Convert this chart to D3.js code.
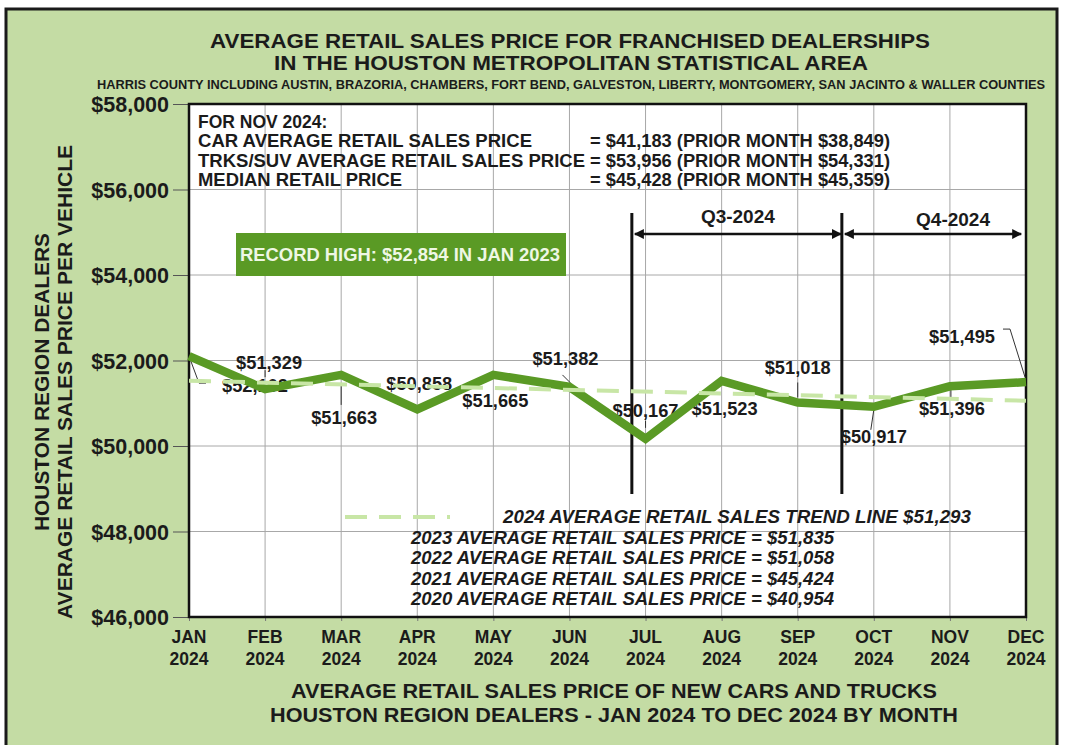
<!DOCTYPE html>
<html>
<head>
<meta charset="utf-8">
<script src="https://cdn.jsdelivr.net/npm/d3@7/dist/d3.min.js"></script>
<style>
  body { margin: 0; background: #fff; }
  text { fill: #1b1b1b; }
  .arial { font-family: "Liberation Sans", Arial, sans-serif; font-weight: bold; }
  .narrow { font-family: "Liberation Sans Narrow", "Arial Narrow", "Liberation Sans", sans-serif; font-weight: bold; }
</style>
</head>
<body>
<svg width="1067" height="745"></svg>
<script>
// **** data ****
var months = ["JAN", "FEB", "MAR", "APR", "MAY", "JUN", "JUL", "AUG", "SEP", "OCT", "NOV", "DEC"];
var year = "2024";
var prices = [52102, 51329, 51663, 50858, 51665, 51382, 50167, 51523, 51018, 50917, 51396, 51495];
var trendEnds = [51526, 51060];           // 2024 trend line at JAN and DEC
var trendAvg = 51293;
var yTicks = [46000, 48000, 50000, 52000, 54000, 56000, 58000];
var quarterNames = ["Q3-2024", "Q4-2024"];
var quarterEdges = [5.82, 8.58, 10.95];   // month index where each bracket starts/ends
var quarterLineTop = 55450, quarterLineBottom = 48880;
var novLabels = ["CAR AVERAGE RETAIL SALES PRICE", "TRKS/SUV AVERAGE RETAIL SALES PRICE", "MEDIAN RETAIL PRICE"];
var novValues = ["= $41,183 (PRIOR MONTH $38,849)", "= $53,956 (PRIOR MONTH $54,331)", "= $45,428 (PRIOR MONTH $45,359)"];
var priorYears = ["2023", "2022", "2021", "2020"];
var priorAvgs = [51835, 51058, 45424, 40954];

// label placement for each month: [dx, dy] of label centre/baseline from the point
var labelOffsets = [[66, 36], [4, -20], [3, 49], [2, -19], [2, 32], [-4, -22],
                    [0, -22], [3, 34], [0, -28], [0, 36], [2, 29], [-64, -39]];
// leader lines (relative to the point), null when none
var leaders = [[[0, 0], [10, 27], [17, 27]], [[0, -12], [0, -19]], [[0, 8], [0, 30]], null, null,
               [[1, -4], [-7, -12]], [[0, -11], [0, -18]], null, [[0, -5], [0, -20]],
               [[0, 3], [-3, 23]], [[1, 1], [1, 11]], [[-1, -5], [-16, -53], [-23, -53]]];

var fmt = d3.format("$,");
var green = "#5a9a25";

var svg = d3.select("svg");

// frame
svg.append("rect")
    .attr("x", 6).attr("y", 9).attr("width", 1051).attr("height", 760)
    .attr("fill", "#c4dca4").attr("stroke", "#1a1a1a").attr("stroke-width", 3);

var x = d3.scaleLinear().domain([0, 11]).range([189, 1026]);
var y = d3.scaleLinear().domain([46000, 58000]).range([617, 104]);

// plot background
svg.append("rect")
    .attr("x", x(0)).attr("y", y(58000))
    .attr("width", x(11) - x(0)).attr("height", y(46000) - y(58000))
    .attr("fill", "#fff");

// gridlines
svg.append("g")
    .selectAll("line.h").data(yTicks).enter().append("line")
    .attr("x1", x(0)).attr("x2", x(11))
    .attr("y1", function (d) { return y(d); }).attr("y2", function (d) { return y(d); })
    .attr("stroke", "#a8a8a8").attr("stroke-width", 1);

svg.append("g")
    .selectAll("line.v").data(months).enter().append("line")
    .attr("x1", function (d, i) { return x(i); }).attr("x2", function (d, i) { return x(i); })
    .attr("y1", y(58000)).attr("y2", y(46000))
    .attr("stroke", "#a8a8a8").attr("stroke-width", 1);

// y axis
var yAxis = svg.append("g")
    .attr("transform", "translate(" + x(0) + ",0)")
    .call(d3.axisLeft(y).tickValues(yTicks).tickFormat(fmt).tickSize(16).tickPadding(4));
yAxis.select(".domain").remove();
yAxis.selectAll("line").attr("stroke", "#555");
yAxis.selectAll("text")
    .attr("class", "arial")
    .style("font-size", "21.5px")
    .attr("fill", "#1b1b1b")
    .attr("dy", "0.36em");

// x axis
var xAxis = svg.append("g")
    .attr("transform", "translate(0," + y(46000) + ")")
    .call(d3.axisBottom(x).tickValues(d3.range(12)).tickFormat("").tickSize(4));
xAxis.select(".domain").remove();
xAxis.selectAll("line").attr("stroke", "#777");

var xl = svg.append("g").selectAll("text").data(months).enter().append("text")
    .attr("class", "arial")
    .attr("text-anchor", "middle")
    .style("font-size", "17.5px");
xl.append("tspan").attr("x", function (d, i) { return x(i); }).attr("y", 643).text(function (d) { return d; });
xl.append("tspan").attr("x", function (d, i) { return x(i); }).attr("y", 665).text(year);

// plot border
svg.append("rect")
    .attr("x", x(0)).attr("y", y(58000))
    .attr("width", x(11) - x(0)).attr("height", y(46000) - y(58000))
    .attr("fill", "none").attr("stroke", "#111").attr("stroke-width", 2.5);

// quarter markers
var defs = svg.append("defs");
defs.append("marker").attr("id", "arrow")
    .attr("viewBox", "0 0 10 10").attr("refX", 9).attr("refY", 5)
    .attr("markerWidth", 4).attr("markerHeight", 4).attr("orient", "auto-start-reverse")
    .append("path").attr("d", "M0,0 L10,5 L0,10 z").attr("fill", "#111");

svg.append("g").selectAll("line").data(quarterEdges.slice(0, 2)).enter().append("line")
    .attr("x1", function (d) { return x(d); }).attr("x2", function (d) { return x(d); })
    .attr("y1", y(quarterLineTop)).attr("y2", y(quarterLineBottom))
    .attr("stroke", "#111").attr("stroke-width", 3);

quarterNames.forEach(function (q, i) {
    var a = x(quarterEdges[i]) + 3, b = x(quarterEdges[i + 1]) - 1;
    var ay = y(quarterLineTop) + 21;
    svg.append("line")
        .attr("x1", a).attr("x2", b).attr("y1", ay).attr("y2", ay)
        .attr("stroke", "#111").attr("stroke-width", 2.5)
        .attr("marker-start", "url(#arrow)").attr("marker-end", "url(#arrow)");
    svg.append("text")
        .attr("class", "arial")
        .attr("x", (a + b) / 2 + (i === 1 ? 20 : 0)).attr("y", ay - 11 - (i === 1 ? -3 : 0))
        .attr("text-anchor", "middle")
        .style("font-size", "19px")
        .text(q);
});

// value labels (drawn under the lines, as in the original)
svg.append("g").selectAll("text").data(prices).enter().append("text")
    .attr("class", "arial")
    .attr("x", function (d, i) { return x(i) + labelOffsets[i][0]; })
    .attr("y", function (d, i) { return y(d) + labelOffsets[i][1]; })
    .attr("text-anchor", "middle")
    .style("font-size", "17.5px")
    .attr("textLength", 66).attr("lengthAdjust", "spacingAndGlyphs")
    .text(function (d) { return fmt(d); });

// leader lines
svg.append("g").selectAll("path").data(prices).enter().append("path")
    .attr("d", function (d, i) {
        if (!leaders[i]) return null;
        var px = x(i), py = y(d);
        return "M" + leaders[i].map(function (p) { return (px + p[0]) + "," + (py + p[1]); }).join("L");
    })
    .attr("fill", "none").attr("stroke", "#333").attr("stroke-width", 1);

// price line
var line = d3.line()
    .x(function (d, i) { return x(i); })
    .y(function (d) { return y(d); });

svg.append("path")
    .datum(prices)
    .attr("d", line)
    .attr("fill", "none")
    .attr("stroke", green)
    .attr("stroke-width", 8.5)
    .attr("stroke-linejoin", "miter");

// trend line
var trendDash = "22,12";
svg.append("line")
    .attr("x1", x(0)).attr("x2", x(11))
    .attr("y1", y(trendEnds[0])).attr("y2", y(trendEnds[1]))
    .attr("stroke", "#c8e6a6").attr("stroke-width", 4)
    .attr("stroke-dasharray", trendDash);

// November note
var note = svg.append("g").attr("class", "arial").style("font-size", "17.5px");
note.append("text").attr("x", 198).attr("y", 128).text("FOR NOV 2024:");
var noteWidths = [334, 387, 204];
novLabels.forEach(function (t, i) {
    note.append("text").attr("x", 198).attr("y", 147 + i * 19.5)
        .attr("textLength", noteWidths[i]).attr("lengthAdjust", "spacingAndGlyphs").text(t);
    note.append("text").attr("x", 590).attr("y", 147 + i * 19.5)
        .attr("textLength", 300).attr("lengthAdjust", "spacingAndGlyphs").text(novValues[i]);
});

// record high box
svg.append("rect")
    .attr("x", 236).attr("y", 233).attr("width", 330).attr("height", 43)
    .attr("fill", green);
svg.append("text")
    .attr("class", "arial")
    .attr("x", 400).attr("y", 261)
    .attr("text-anchor", "middle")
    .style("font-size", "18px")
    .style("fill", "#eef7e4")
    .attr("textLength", 320).attr("lengthAdjust", "spacingAndGlyphs")
    .text("RECORD HIGH: $52,854 IN JAN 2023");

// legend / yearly averages
svg.append("line")
    .attr("x1", 345).attr("x2", 450).attr("y1", 517).attr("y2", 517)
    .attr("stroke", "#c8e6a6").attr("stroke-width", 4)
    .attr("stroke-dasharray", trendDash);

var leg = svg.append("g").attr("class", "narrow").style("font-size", "18px").style("font-style", "italic");
leg.append("text").attr("x", 503).attr("y", 523)
    .attr("textLength", 468).attr("lengthAdjust", "spacingAndGlyphs")
    .text("2024 AVERAGE RETAIL SALES TREND LINE " + fmt(trendAvg));
priorYears.forEach(function (yr, i) {
    leg.append("text").attr("x", 411).attr("y", 544 + i * 20.3)
        .attr("textLength", 423).attr("lengthAdjust", "spacingAndGlyphs")
        .text(yr + " AVERAGE RETAIL SALES PRICE = " + fmt(priorAvgs[i]));
});

// titles
function title(t, cx, cy, size, w, cls) {
    svg.append("text")
        .attr("class", cls || "narrow")
        .attr("x", cx - w / 2).attr("y", cy)
        .style("font-size", size + "px")
        .attr("textLength", w).attr("lengthAdjust", "spacingAndGlyphs")
        .text(t);
}
title("AVERAGE RETAIL SALES PRICE FOR FRANCHISED DEALERSHIPS", 570, 48, 21, 720);
title("IN THE HOUSTON METROPOLITAN STATISTICAL AREA", 571, 70, 21, 594);
title("HARRIS COUNTY INCLUDING AUSTIN, BRAZORIA, CHAMBERS, FORT BEND, GALVESTON, LIBERTY, MONTGOMERY, SAN JACINTO & WALLER COUNTIES", 571, 89, 12.5, 948);
title("AVERAGE RETAIL SALES PRICE OF NEW CARS AND TRUCKS", 614, 698, 21, 646);
title("HOUSTON REGION DEALERS - JAN 2024 TO DEC 2024 BY MONTH", 614, 722, 21, 688);

// y axis title
var yt = svg.append("g").attr("class", "arial").style("font-size", "19.5px");
yt.append("text")
    .attr("transform", "translate(49,382) rotate(-90)")
    .attr("x", -149).attr("textLength", 298).attr("lengthAdjust", "spacingAndGlyphs")
    .text("HOUSTON REGION DEALERS");
yt.append("text")
    .attr("transform", "translate(72,382) rotate(-90)")
    .attr("x", -237).attr("textLength", 474).attr("lengthAdjust", "spacingAndGlyphs")
    .text("AVERAGE RETAIL SALES PRICE PER VEHICLE");
</script>
</body>
</html>
